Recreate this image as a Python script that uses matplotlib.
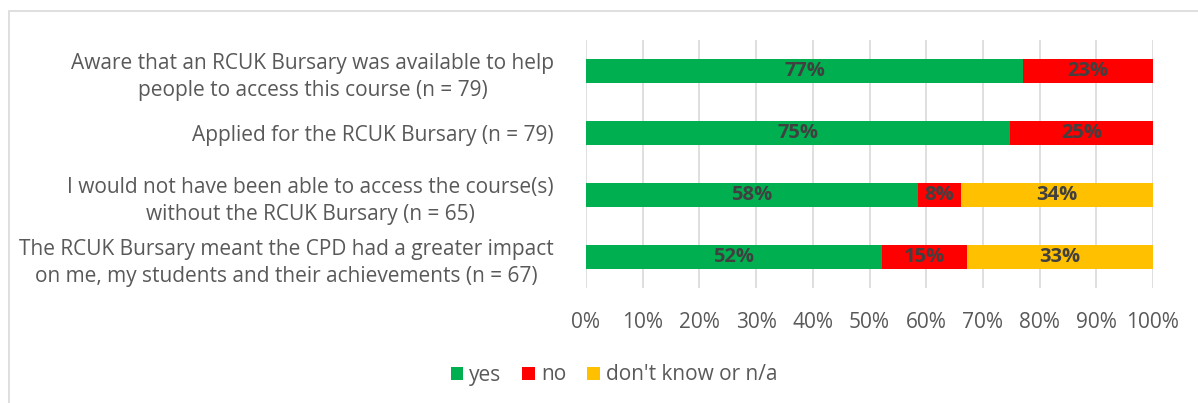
import matplotlib.pyplot as plt
from matplotlib.patches import Rectangle

categories = ['Aware that an RCUK Bursary was available to help\npeople to access this course (n = 79)',
              'Applied for the RCUK Bursary (n = 79)',
              'I would not have been able to access the course(s)\nwithout the RCUK Bursary (n = 65)',
              'The RCUK Bursary meant the CPD had a greater impact\non me, my students and their achievements (n = 67)']
yes = [77.1, 74.8, 58.5, 52.2]
no = [22.9, 25.2, 7.6, 15.0]
dunno = [0, 0, 33.9, 32.8]
yes_lbl = ['77%', '75%', '58%', '52%']
no_lbl = ['23%', '25%', '8%', '15%']
dunno_lbl = ['', '', '34%', '33%']
series = ['yes', 'no', "don't know or n/a"]
colors = ['#00B050', '#FF0000', '#FFC000']

plt.rcParams['font.family'] = ['Open Sans', 'DejaVu Sans']
W, H = 1198, 403
fig = plt.figure(figsize=(W / 100, H / 100), dpi=100)
# chart frame: only the left and top edges are in view
fig.patches.append(Rectangle((9 / W, -0.2), 1.2, 1.2 - 11 / H, transform=fig.transFigure,
                             fill=False, edgecolor='#D9D9D9', lw=1.2))

ax = fig.add_axes([586 / W, 1 - 288 / H, (1153 - 586) / W, 248 / H])
ypos = range(len(categories))
left = [0] * len(categories)
for vals, lbls, col, name in zip([yes, no, dunno], [yes_lbl, no_lbl, dunno_lbl], colors, series):
    bars = ax.barh(ypos, vals, left=left, height=0.4, color=col, label=name)
    ax.bar_label(bars, labels=lbls, label_type='center', color='#404040',
                 fontsize=14.5, fontweight='bold')
    left = [a + b for a, b in zip(left, vals)]

ax.set_xlim(0, 100)
ax.set_ylim(3.5, -0.5)
ax.set_xticks(range(0, 101, 10))
ax.set_xticklabels([f'{v}%' for v in range(0, 101, 10)])
ax.set_yticks(list(ypos))
ax.set_yticklabels(categories, ha='right', multialignment='center', linespacing=1.4)
ax.tick_params(axis='y', length=0, pad=23, labelsize=15, labelcolor='#595959')
ax.tick_params(axis='x', length=0, pad=17, labelsize=15, labelcolor='#595959')
ax.grid(axis='x', color='#D9D9D9', lw=1.2)
ax.set_axisbelow(True)
for s in ax.spines.values():
    s.set_visible(False)

fig.legend(loc='center', bbox_to_anchor=(614 / W, 1 - 375 / H), ncol=3, frameon=False,
           fontsize=15, labelcolor='#595959', handlelength=0.6, handleheight=0.6,
           handletextpad=0.3, columnspacing=1.0)

fig.savefig('out.png', dpi=100)
